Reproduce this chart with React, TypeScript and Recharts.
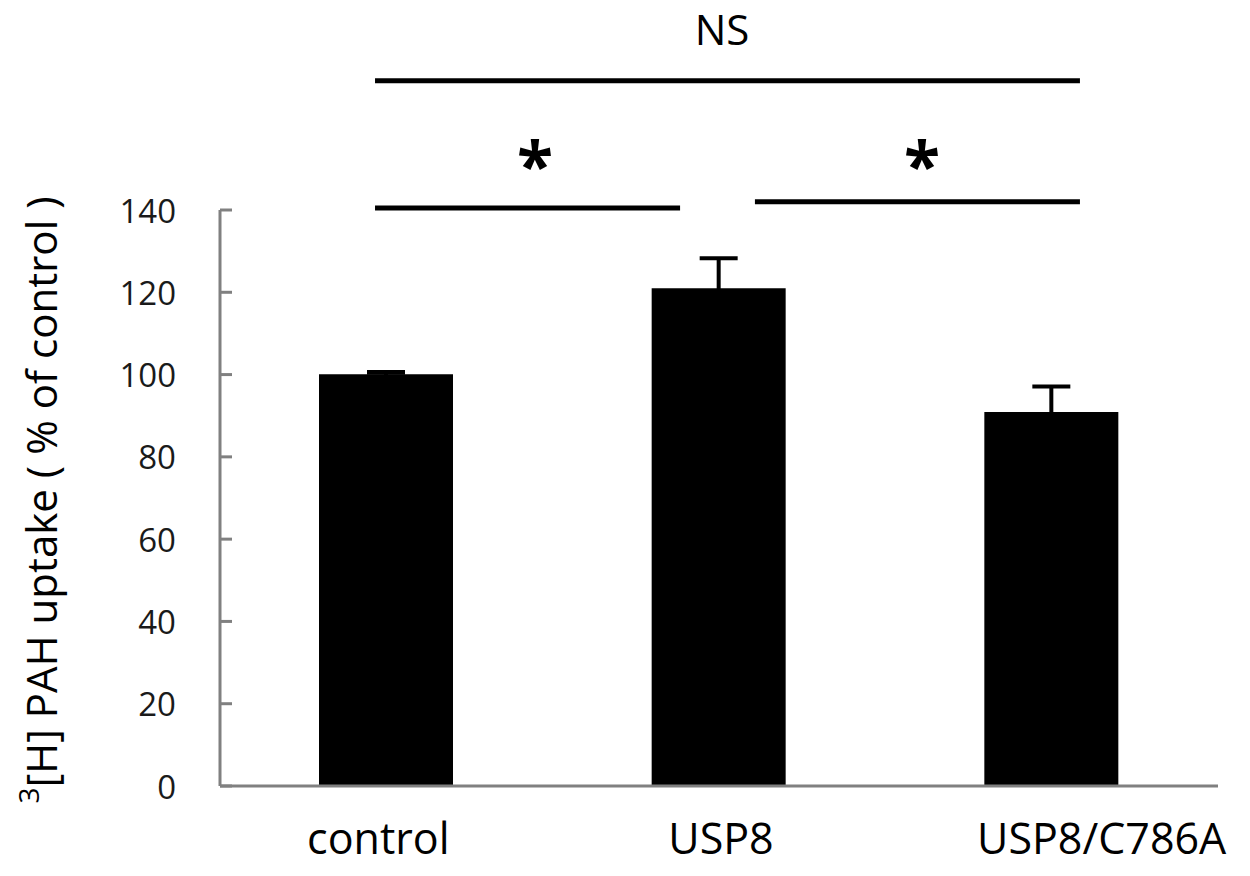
import React from 'react';
import { BarChart, Bar, XAxis, YAxis, ErrorBar, ReferenceLine, ReferenceDot, Label } from 'recharts';

// ---- data ----
const categories = ['control', 'USP8', 'USP8/C786A'];
const uptake = [100.1, 121.0, 90.9];
const uptakeErr = [0.5, 7.3, 6.2];
const yTicks = [0, 20, 40, 60, 80, 100, 120, 140];

// significance brackets (x in category units: category i spans [i, i+1])
const bracketX1 = [0.466, 0.466, 1.608];
const bracketX2 = [2.585, 1.383, 2.585];
const bracketY = [171.4, 140.5, 142.0];
const sigLabels = ['NS', '*', '*'];
const sigLabelX = [1.509, 0.947, 2.11];
const sigLabelY = [184.0, 154.5, 154.5];

const data = categories.map((c, i) => ({ name: c, value: uptake[i], err: uptakeErr[i] }));

const FONT = '"Open Sans", "Noto Sans", sans-serif';

const YTick = (props: any) => {
  const { x, y, payload } = props;
  return (
    <g>
      <line x1={x} x2={x + 12} y1={y} y2={y} stroke="#808080" strokeWidth={3} />
      <text
        x={x - 44}
        y={y}
        textAnchor="end"
        dominantBaseline="central"
        fontFamily={FONT}
        fontSize={33}
        fill="#1a1a1a"
      >
        {payload.value}
      </text>
    </g>
  );
};

const tickShift = [-8, 2, 50];
const XTick = (props: any) => {
  const { x, y, payload, index } = props;
  return (
    <text
      x={x + (tickShift[index] || 0)}
      y={y - 3}
      textAnchor="middle"
      dominantBaseline="central"
      fontFamily={FONT}
      fontSize={43}
      fill="#000"
    >
      {payload.value}
    </text>
  );
};

const YLabel = (props: any) => {
  const vb = props.viewBox || { x: 0, y: 0, width: 0, height: 0 };
  const cx = vb.x + 40;
  const cy = vb.y + vb.height / 2 + 2;
  return (
    <text
      x={cx}
      y={cy}
      transform={`rotate(-90, ${cx}, ${cy})`}
      textAnchor="middle"
      dominantBaseline="central"
      fontFamily={FONT}
      fontSize={42}
      fill="#000"
    >
      <tspan fontSize={28} dy={-12}>3</tspan>
      <tspan dy={12}>[H] PAH uptake ( % of control )</tspan>
    </text>
  );
};

const makeSigShape = (label: string) => (p: any) => {
  const isStar = label === '*';
  const fs = isStar ? 66 : 42;
  return (
    <text
      x={p.cx}
      y={p.cy + (isStar ? fs * 0.2 : 0)}
      textAnchor="middle"
      dominantBaseline="central"
      fontFamily={FONT}
      fontSize={fs}
      fontWeight={isStar ? 'bold' : 'normal'}
      fill="#000"
    >
      {label}
    </text>
  );
};

export default function App() {
  return (
    <div style={{ position: 'absolute', left: 0, top: 0, width: 1250, height: 876, background: '#fff' }}>
      <BarChart
        width={1250}
        height={876}
        data={data}
        margin={{ top: 210, right: 32, bottom: 0, left: 0 }}
      >
        <XAxis
          dataKey="name"
          height={90}
          axisLine={{ stroke: '#808080', strokeWidth: 3 }}
          tickLine={false}
          tickSize={0}
          tickMargin={54}
          tick={<XTick />}
          interval={0}
        />
        <XAxis
          xAxisId="num"
          dataKey="err"
          type="number"
          domain={[0, 3]}
          allowDataOverflow
          hide
        />
        <YAxis
          width={220}
          domain={[0, 140]}
          ticks={yTicks}
          allowDataOverflow
          axisLine={{ stroke: '#808080', strokeWidth: 3 }}
          tickLine={false}
          tickSize={0}
          tickMargin={0}
          tick={<YTick />}
          interval={0}
        >
          <Label content={<YLabel />} position="left" />
        </YAxis>
        <Bar dataKey="value" fill="#000" barSize={134} isAnimationActive={false}>
          <ErrorBar dataKey="err" width={19} strokeWidth={4} stroke="#000" direction="y" />
        </Bar>
        {bracketX1.map((x1, i) => (
          <ReferenceLine
            key={'l' + i}
            xAxisId="num"
            segment={[
              { x: x1, y: bracketY[i] },
              { x: bracketX2[i], y: bracketY[i] },
            ]}
            stroke="#000"
            strokeWidth={5}
            ifOverflow="visible"
          />
        ))}
        {sigLabels.map((s, i) => (
          <ReferenceDot
            key={'d' + i}
            xAxisId="num"
            x={sigLabelX[i]}
            y={sigLabelY[i]}
            r={0}
            ifOverflow="visible"
            shape={makeSigShape(s)}
          />
        ))}
      </BarChart>
    </div>
  );
}
